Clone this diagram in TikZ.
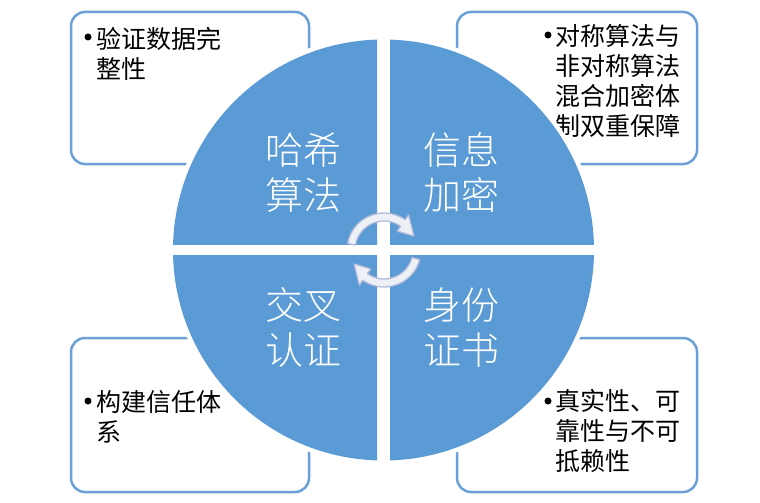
\documentclass[tikz,border=0pt]{standalone}
\usepackage{fontspec}
\newfontfamily\cjk{Noto Sans CJK SC}
\newfontfamily\cjklight{Noto Sans CJK SC}[UprightFont=* Light]
\definecolor{qblue}{HTML}{5B9BD5}
\definecolor{boxblue}{HTML}{6A9FD8}
\definecolor{arrowfill}{HTML}{EEF0F7}
\definecolor{arrowline}{HTML}{B3BBD9}
\begin{document}
\begin{tikzpicture}[x=1pt,y=-1pt,
 infobox/.style={draw=boxblue, line width=2.5pt, rounded corners=14pt, fill=white, inner sep=0pt},
 quadlabel/.style={text=white, font=\cjklight\fontsize{38}{45}\selectfont, align=center, inner sep=0pt, anchor=base},
 boxtext/.style={text=black, font=\cjk\fontsize{25}{30}\selectfont, align=left, inner sep=0pt, anchor=base west},
 bulletdot/.style={circle, fill=black, inner sep=0pt, minimum size=7pt},
 ringarrow/.style={fill=arrowfill, draw=arrowline, line width=1.3pt, line join=round}]
\useasboundingbox (0,0) rectangle (760,503);
\fill[white] (0,0) rectangle (760,503);
% boxes
\node[infobox, minimum width=238pt, minimum height=152pt] (tlbox) at (190,88) {};
\node[infobox, minimum width=240pt, minimum height=152pt] (trbox) at (577,88) {};
\node[infobox, minimum width=238pt, minimum height=154pt] (blbox) at (190,415) {};
\node[infobox, minimum width=240pt, minimum height=154pt] (brbox) at (577,415) {};
% box texts (base anchor = baseline of last line)
\node[bulletdot] (tlbul) at (88,37) {};
\node[boxtext] (tltext) at (96,78) {验证数据完\\整性};
\node[bulletdot] (trbul) at (548,35) {};
\node[boxtext] (trtext) at (555,135) {对称算法与\\非对称算法\\混合加密体\\制双重保障};
\node[bulletdot] (blbul) at (88,401) {};
\node[boxtext] (bltext) at (96,441) {构建信任体\\系};
\node[bulletdot] (brbul) at (548,401) {};
\node[boxtext] (brtext) at (555,470) {真实性、可\\靠性与不可\\抵赖性};
% circle
\fill[white] (383.5,250) circle[radius=215];
\begin{scope}\clip (0,0) rectangle (377,244.5); \fill[qblue] (383.5,250) circle[radius=210.5]; \end{scope}
\begin{scope}\clip (390,0) rectangle (760,244.5); \fill[qblue] (383.5,250) circle[radius=210.5]; \end{scope}
\begin{scope}\clip (0,255.5) rectangle (377,503); \fill[qblue] (383.5,250) circle[radius=210.5]; \end{scope}
\begin{scope}\clip (390,255.5) rectangle (760,503); \fill[qblue] (383.5,250) circle[radius=210.5]; \end{scope}
% labels
\node[quadlabel] (hash) at (303,209) {哈希\\算法};
\node[quadlabel] (encr) at (461,209) {信息\\加密};
\node[quadlabel] (cross) at (303,364) {交叉\\认证};
\node[quadlabel] (cert) at (461,364) {身份\\证书};
% circular arrows
\begin{scope}[shift={(384,250)}]
\draw[ringarrow] (-170:37) arc[start angle=-170, end angle=-55, radius=37] -- (-55:43) -- (-25:33) -- (-55:23) -- (-55:29) arc[start angle=-55, end angle=-170, radius=29] -- cycle;
\draw[ringarrow] (15:37) arc[start angle=15, end angle=125, radius=37] -- (125:43) -- (155:33) -- (125:23) -- (125:29) arc[start angle=125, end angle=15, radius=29] -- cycle;
\end{scope}
\end{tikzpicture}
\end{document}
